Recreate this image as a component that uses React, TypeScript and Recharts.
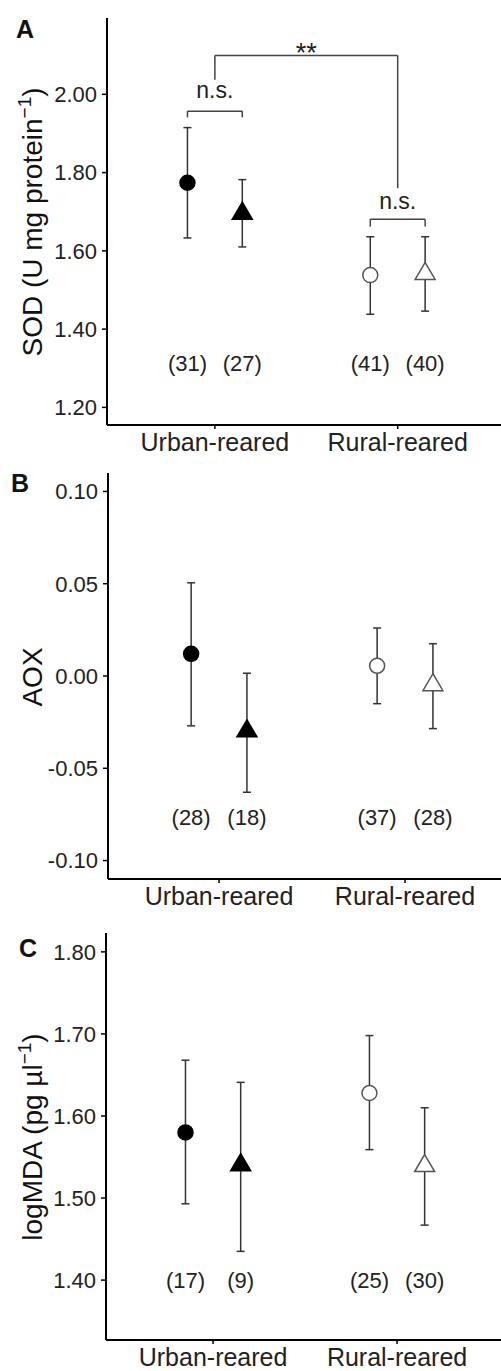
import React from 'react';
import { ScatterChart, Scatter, XAxis, YAxis, ErrorBar, ReferenceLine, ReferenceDot } from 'recharts';

const FONT = '"Liberation Sans", Arial, Helvetica, sans-serif';

const groups = ['Urban-reared', 'Rural-reared'];

// point order in every panel: urban ●, urban ▲, rural ○, rural △
const sodMean = [1.774, 1.695, 1.538, 1.541];
const sodLower = [1.633, 1.61, 1.438, 1.446];
const sodUpper = [1.915, 1.782, 1.636, 1.636];
const sodN = [31, 27, 41, 40];
const sodTicks = [1.2, 1.4, 1.6, 1.8, 2.0];

const aoxMean = [0.012, -0.03, 0.0055, -0.005];
const aoxLower = [-0.027, -0.063, -0.015, -0.0285];
const aoxUpper = [0.0505, 0.0015, 0.026, 0.0175];
const aoxN = [28, 18, 37, 28];
const aoxTicks = [-0.1, -0.05, 0, 0.05, 0.1];

const mdaMean = [1.58, 1.54, 1.628, 1.539];
const mdaLower = [1.493, 1.435, 1.559, 1.467];
const mdaUpper = [1.668, 1.641, 1.698, 1.61];
const mdaN = [17, 9, 25, 30];
const mdaTicks = [1.4, 1.5, 1.6, 1.7, 1.8];

const DODGE = 0.15;

const buildRows = (mean: number[], lower: number[], upper: number[], n: number[]) =>
  mean.map((m, i) => ({
    x: Math.floor(i / 2) + 1 + (i % 2 === 0 ? -DODGE : DODGE),
    y: m,
    err: [m - lower[i], upper[i] - m],
    n: n[i],
    urban: i < 2,
    shape: i % 2 === 0 ? 'circle' : 'triangle',
  }));

const sodRows = buildRows(sodMean, sodLower, sodUpper, sodN);
const aoxRows = buildRows(aoxMean, aoxLower, aoxUpper, aoxN);
const mdaRows = buildRows(mdaMean, mdaLower, mdaUpper, mdaN);

function Marker(props: any) {
  const { cx, cy, payload } = props;
  if (cx == null || cy == null) return null;
  const fill = payload.urban ? '#000' : '#fff';
  const stroke = payload.urban ? '#000' : '#555';
  if (payload.shape === 'circle') {
    return <circle cx={cx} cy={cy} r={7.5} fill={fill} stroke={stroke} strokeWidth={1.5} />;
  }
  return (
    <polygon
      points={`${cx},${cy - 11.5} ${cx + 10},${cy + 5.5} ${cx - 10},${cy + 5.5}`}
      fill={fill}
      stroke={stroke}
      strokeWidth={1.5}
    />
  );
}

const lineStyle = { stroke: '#444', strokeWidth: 1.5 };

const bracket = (key: string, x1: number, x2: number, yTop: number, yLeft: number, yRight: number) => [
  <ReferenceLine key={key + 'h'} segment={[{ x: x1, y: yTop }, { x: x2, y: yTop }]} {...lineStyle} />,
  <ReferenceLine key={key + 'l'} segment={[{ x: x1, y: yTop }, { x: x1, y: yLeft }]} {...lineStyle} />,
  <ReferenceLine key={key + 'r'} segment={[{ x: x2, y: yTop }, { x: x2, y: yRight }]} {...lineStyle} />,
];

const note = (key: string, x: number, y: number, text: string, size: number) => (
  <ReferenceDot
    key={key}
    x={x}
    y={y}
    r={0}
    fill="none"
    stroke="none"
    label={{ value: text, position: 'center', fontSize: size, fill: '#222', fontFamily: FONT }}
  />
);

interface PanelProps {
  top: number;
  height: number;
  margin: { top: number; right: number; bottom: number; left: number };
  xDomain: [number, number];
  yDomain: [number, number];
  ticks: number[];
  rows: ReturnType<typeof buildRows>;
  nY: number;
  extra?: React.ReactNode;
}

function Panel({ top, height, margin, xDomain, yDomain, ticks, rows, nY, extra }: PanelProps) {
  return (
    <div style={{ position: 'absolute', left: 0, top }}>
      <ScatterChart width={501} height={height} margin={margin}>
        <XAxis
          type="number"
          dataKey="x"
          domain={xDomain}
          allowDataOverflow
          ticks={[1, 2]}
          tickFormatter={(v: number) => groups[v - 1]}
          height={30}
          tickSize={4}
          tickMargin={4}
          axisLine={{ stroke: '#000', strokeWidth: 2 }}
          tickLine={{ stroke: '#000', strokeWidth: 1.5 }}
          tick={{ fill: '#222', fontSize: 25, fontFamily: FONT }}
        />
        <YAxis
          type="number"
          dataKey="y"
          domain={yDomain}
          allowDataOverflow
          ticks={ticks}
          tickFormatter={(v: number) => v.toFixed(2)}
          width={60}
          tickSize={5}
          tickMargin={5}
          axisLine={{ stroke: '#000', strokeWidth: 2 }}
          tickLine={{ stroke: '#000', strokeWidth: 1.5 }}
          tick={{ fill: '#222', fontSize: 22, fontFamily: FONT }}
        />
        <Scatter data={rows} shape={Marker} isAnimationActive={false}>
          <ErrorBar dataKey="err" direction="y" width={4} stroke="#333" strokeWidth={1.5} isAnimationActive={false} />
        </Scatter>
        {rows.map((r, i) => note('n' + i, r.x, nY, `(${r.n})`, 22))}
        {extra}
      </ScatterChart>
    </div>
  );
}

export default function App() {
  const sodExtra = [
    ...bracket('u', 1 - DODGE, 1 + DODGE, 1.957, 1.941, 1.941),
    ...bracket('r', 2 - DODGE, 2 + DODGE, 1.681, 1.662, 1.662),
    ...bracket('g', 1, 2, 2.099, 2.037, 1.76),
    note('ns1', 1, 2.011, 'n.s.', 23),
    note('ns2', 2, 1.729, 'n.s.', 23),
    note('star', 1.5, 2.107, '**', 27),
  ];

  return (
    <div style={{ position: 'absolute', left: 0, top: 0, width: 501, height: 1371, background: '#fff' }}>
      <Panel
        top={0}
        height={460}
        margin={{ top: 18, right: 0, bottom: 5, left: 47 }}
        xDomain={[0.41, 2.565]}
        yDomain={[1.155, 2.195]}
        ticks={sodTicks}
        rows={sodRows}
        nY={1.313}
        extra={sodExtra}
      />
      <Panel
        top={460}
        height={455}
        margin={{ top: 13, right: 0, bottom: 6, left: 48 }}
        xDomain={[0.403, 2.516]}
        yDomain={[-0.11, 0.11]}
        ticks={aoxTicks}
        rows={aoxRows}
        nY={-0.0765}
      />
      <Panel
        top={915}
        height={456}
        margin={{ top: 18, right: 0, bottom: 1, left: 46 }}
        xDomain={[0.418, 2.565]}
        yDomain={[1.327, 1.823]}
        ticks={mdaTicks}
        rows={mdaRows}
        nY={1.4}
      />
      <svg
        width={501}
        height={1371}
        style={{ position: 'absolute', left: 0, top: 0, pointerEvents: 'none' }}
        fontFamily={FONT}
      >
        <text x={25} y={38} fontSize={25} fontWeight="bold" textAnchor="middle" fill="#111">A</text>
        <text x={20} y={492} fontSize={25} fontWeight="bold" textAnchor="middle" fill="#111">B</text>
        <text x={28} y={957} fontSize={25} fontWeight="bold" textAnchor="middle" fill="#111">C</text>

        <text transform="translate(42,222) rotate(-90)" fontSize={28} textAnchor="middle" fill="#111">
          SOD (U mg protein
          <tspan dy={-11} fontSize={19}>−1</tspan>
          <tspan dy={11}>)</tspan>
        </text>
        <text transform="translate(42,677) rotate(-90)" fontSize={28} textAnchor="middle" fill="#111">
          AOX
        </text>
        <text transform="translate(42,1137) rotate(-90)" fontSize={28} textAnchor="middle" fill="#111">
          logMDA (pg µl
          <tspan dy={-11} fontSize={19}>−1</tspan>
          <tspan dy={11}>)</tspan>
        </text>
      </svg>
    </div>
  );
}
